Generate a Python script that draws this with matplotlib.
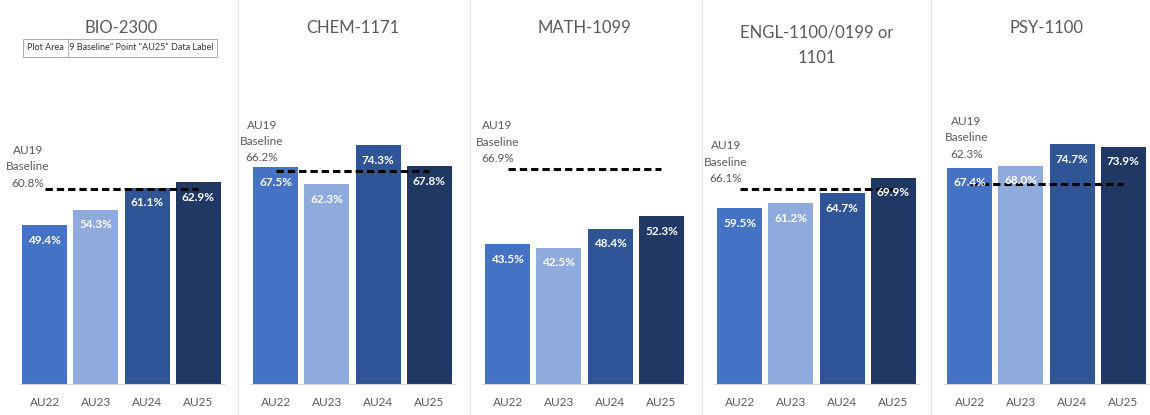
import numpy as np
import matplotlib
matplotlib.use("Agg")
import matplotlib.pyplot as plt

plt.rcParams['font.family'] = ['Lato', 'DejaVu Sans']

# Kursdata: andel per termin og baseline frå AU19
terms = ['AU22', 'AU23', 'AU24', 'AU25']
courses = ['BIO-2300', 'CHEM-1171', 'MATH-1099', 'ENGL-1100/0199 or\n1101', 'PSY-1100']
bio = [49.4, 54.3, 61.1, 62.9]
chem = [67.5, 62.3, 74.3, 67.8]
math_ = [43.5, 42.5, 48.4, 52.3]
engl = [59.5, 61.2, 64.7, 69.9]
psy = [67.4, 68.0, 74.7, 73.9]
baseline = [60.8, 66.2, 66.9, 66.1, 62.3]

values = [bio, chem, math_, engl, psy]
colors = ['#4472C4', '#8FAADC', '#2F5597', '#1F3864']
grey = '#595959'

W, H = 1150, 415
fig = plt.figure(figsize=(W / 100, H / 100), dpi=100)

# plassering av kvart panel i pikslar
ax_left = [19, 250, 482, 714, 944]
ax_top = [63, 63, 63, 89, 63]
ax_bottom = 384
ax_width = 205
title_y = [28, 28, 28, 45, 28]
label_dx = [-0.33, -0.27, -0.2, -0.27, -0.06]
label_pad = [0, 4, 5, 5, 8]
separators = [238, 470, 702, 931]

x = np.arange(len(terms))
for i, course in enumerate(courses):
    ax = fig.add_axes([ax_left[i] / W, 1 - ax_bottom / H, ax_width / W,
                       (ax_bottom - ax_top[i]) / H])
    v = values[i]
    ax.bar(x, v, width=0.88, color=colors, zorder=2)
    ax.plot([0, 3], [baseline[i]] * 2, color='black', lw=2.2,
            linestyle=(0, (2.4, 1.3)), zorder=3)
    for xi, vi in zip(x, v):
        ax.annotate(f'{vi:.1f}%', (xi, vi), xytext=(0, -15),
                    textcoords='offset pixels', ha='center', va='center',
                    color='white', fontsize=8.5, fontweight='bold', zorder=4)
    ax.annotate(f'AU19\nBaseline\n{baseline[i]:.1f}%',
                (label_dx[i], max(baseline[i], v[0])),
                xytext=(0, label_pad[i]), textcoords='offset pixels',
                ha='center', va='bottom', color=grey, fontsize=8.5,
                linespacing=1.6, zorder=5)
    ax.set_xlim(-0.5, 3.5)
    ax.set_ylim(0, 100)
    ax.set_xticks(x, terms)
    ax.set_yticks([])
    ax.tick_params(axis='x', length=0, pad=9, labelsize=8.5, labelcolor=grey)
    for s in ['top', 'left', 'right']:
        ax.spines[s].set_visible(False)
    ax.spines['bottom'].set_color('#d9d9d9')
    ax.patch.set_alpha(0)
    fig.text((ax_left[i] + ax_width / 2) / W, 1 - title_y[i] / H, course,
             ha='center', va='center', fontsize=12, color=grey,
             linespacing=1.7)

for sx in separators:
    fig.add_artist(plt.Line2D([sx / W] * 2, [0, 1], color='#e6e6e6', lw=1))

# verktøytips frå Excel
fig.text(64 / W, 1 - 48 / H, '19 Baseline" Point "AU25" Data Label',
         ha='left', va='center', fontsize=6.5, color='#333333',
         bbox=dict(boxstyle='square,pad=0.45', fc='white', ec='#a0a0a0', lw=0.6))
fig.text(27 / W, 1 - 48 / H, 'Plot Area', ha='left', va='center',
         fontsize=6.5, color='#333333',
         bbox=dict(boxstyle='square,pad=0.45', fc='white', ec='#a0a0a0', lw=0.6))

fig.savefig('out.png', dpi=100)
